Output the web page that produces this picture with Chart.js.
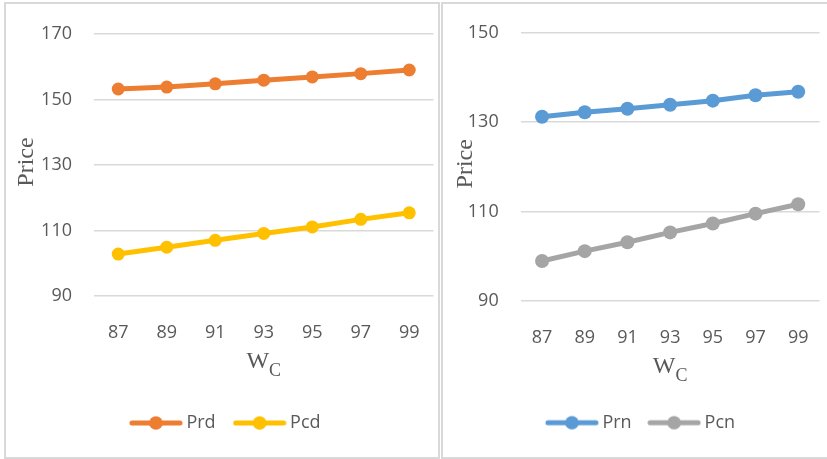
<!DOCTYPE html>
<html>
<head>
<meta charset="utf-8">
<script src="https://cdn.jsdelivr.net/npm/chart.js@4.4.1/dist/chart.umd.min.js"></script>
<style>
  html, body { margin: 0; padding: 0; background: #fff; overflow: hidden; }
  body { position: relative; width: 827px; height: 459px; }
  .frame { position: absolute; box-sizing: border-box; border: 2px solid #d9d9d9; }
  canvas { position: absolute; top: 0; }
</style>
</head>
<body>
<div class="frame" style="left:4px; top:2px; width:436px; height:457px;"></div>
<div class="frame" style="left:441px; top:2px; width:400px; height:457px;"></div>
<canvas id="leftChart" width="440" height="459" style="left:0"></canvas>
<canvas id="rightChart" width="387" height="459" style="left:440px"></canvas>
<script>
// x values of W_C
const wcLabels = ['87', '89', '91', '93', '95', '97', '99'];

// left panel: Prd / Pcd
const prd = [153.2, 153.8, 154.8, 155.9, 156.9, 157.9, 159.0];
const pcd = [102.8, 104.9, 107.0, 109.1, 111.1, 113.4, 115.4];
const leftTicks = [90, 110, 130, 150, 170];

// right panel: Prn / Pcn
const prn = [131.2, 132.2, 133.0, 133.9, 134.8, 136.0, 136.8];
const pcn = [98.9, 101.1, 103.1, 105.3, 107.3, 109.5, 111.6];
const rightTicks = [90, 110, 130, 150];

const yTitle = 'Price';
const xTitleMain = 'W';
const xTitleSub = 'C';

const textGray = '#595959';
const tickFont = { family: '"Open Sans", "Noto Sans", sans-serif', size: 18 };

// line-with-dot swatch used as the legend point style
function legendSwatch(color) {
    const c = document.createElement('canvas');
    c.width = 54;
    c.height = 16;
    const g = c.getContext('2d');
    g.strokeStyle = color;
    g.lineWidth = 5;
    g.lineCap = 'round';
    g.beginPath();
    g.moveTo(3, 8);
    g.lineTo(51, 8);
    g.stroke();
    g.fillStyle = color;
    g.beginPath();
    g.arc(27, 8, 6.8, 0, Math.PI * 2);
    g.fill();
    return c;
}

// axis titles: rotated "Price" and W with a subscript C
const axisTitles = {
    id: 'axisTitles',
    afterDraw(chart, args, opts) {
        const { ctx, chartArea } = chart;
        ctx.save();
        ctx.fillStyle = textGray;
        ctx.translate(opts.yTitleX, (chartArea.top + chartArea.bottom) / 2 - 3);
        ctx.rotate(-Math.PI / 2);
        ctx.font = '24px "Liberation Serif", serif';
        ctx.textAlign = 'center';
        ctx.textBaseline = 'middle';
        ctx.fillText(yTitle, 0, 0);
        ctx.restore();

        ctx.save();
        ctx.fillStyle = textGray;
        ctx.textAlign = 'left';
        ctx.textBaseline = 'alphabetic';
        const mainFont = '24px "Liberation Serif", serif';
        const subFont = '18px "Liberation Serif", serif';
        ctx.font = mainFont;
        const wMain = ctx.measureText(xTitleMain).width;
        ctx.font = subFont;
        const wSub = ctx.measureText(xTitleSub).width;
        const x0 = (chartArea.left + chartArea.right) / 2 - (wMain + wSub) / 2;
        const base = chartArea.bottom + 72;
        ctx.font = mainFont;
        ctx.fillText(xTitleMain, x0, base);
        ctx.font = subFont;
        ctx.fillText(xTitleSub, x0 + wMain, base + 8);
        ctx.restore();
    }
};

function makeChart(id, series, ticks, cfg) {
    const ctx = document.getElementById(id).getContext('2d');
    return new Chart(ctx, {
        type: 'line',
        data: {
            labels: wcLabels,
            datasets: series.map(s => ({
                label: s.label,
                data: s.data,
                borderColor: s.color,
                backgroundColor: s.color,
                borderWidth: 5,
                pointRadius: cfg.pointRadius,
                pointBorderWidth: 0,
                pointBackgroundColor: s.color,
                tension: 0
            }))
        },
        plugins: [axisTitles],
        options: {
            responsive: false,
            animation: false,
            layout: { padding: cfg.padding },
            plugins: {
                tooltip: { enabled: false },
                axisTitles: { yTitleX: cfg.yTitleX },
                legend: {
                    position: 'bottom',
                    labels: {
                        usePointStyle: true,
                        pointStyleWidth: 43,
                        padding: cfg.legendPadding,
                        color: textGray,
                        font: tickFont,
                        generateLabels(chart) {
                            const items = Chart.defaults.plugins.legend.labels.generateLabels(chart);
                            items.forEach(it => {
                                it.pointStyle = legendSwatch(series[it.datasetIndex].color);
                            });
                            return items;
                        }
                    }
                }
            },
            scales: {
                x: {
                    offset: true,
                    grid: { display: false },
                    border: { display: false },
                    ticks: { color: textGray, font: tickFont, padding: 18, maxRotation: 0 },
                    afterFit(scale) { scale.height = cfg.xHeight; }
                },
                y: {
                    min: ticks[0],
                    max: ticks[ticks.length - 1],
                    grid: { color: '#d9d9d9', lineWidth: 1.5, drawTicks: false },
                    border: { display: false },
                    ticks: { color: textGray, font: tickFont, padding: 22, stepSize: ticks[1] - ticks[0] },
                    afterFit(scale) { scale.width = cfg.yWidth; }
                }
            }
        }
    });
}

makeChart('leftChart', [
    { label: 'Prd', data: prd, color: '#ED7D31' },
    { label: 'Pcd', data: pcd, color: '#FFC000' }
], leftTicks, {
    padding: { top: 34, left: 17, right: 2, bottom: 17 },
    yWidth: 77,
    xHeight: 95.5,
    legendPadding: 22.5,
    pointRadius: 6.5,
    yTitleX: 27
});

makeChart('rightChart', [
    { label: 'Prn', data: prn, color: '#5B9BD5' },
    { label: 'Pcn', data: pcn, color: '#A5A5A5' }
], rightTicks, {
    padding: { top: 29.7, left: 18.5, right: 0, bottom: 17.3 },
    yWidth: 62.2,
    xHeight: 92,
    legendPadding: 21,
    pointRadius: 7,
    yTitleX: 26
});
</script>
</body>
</html>
